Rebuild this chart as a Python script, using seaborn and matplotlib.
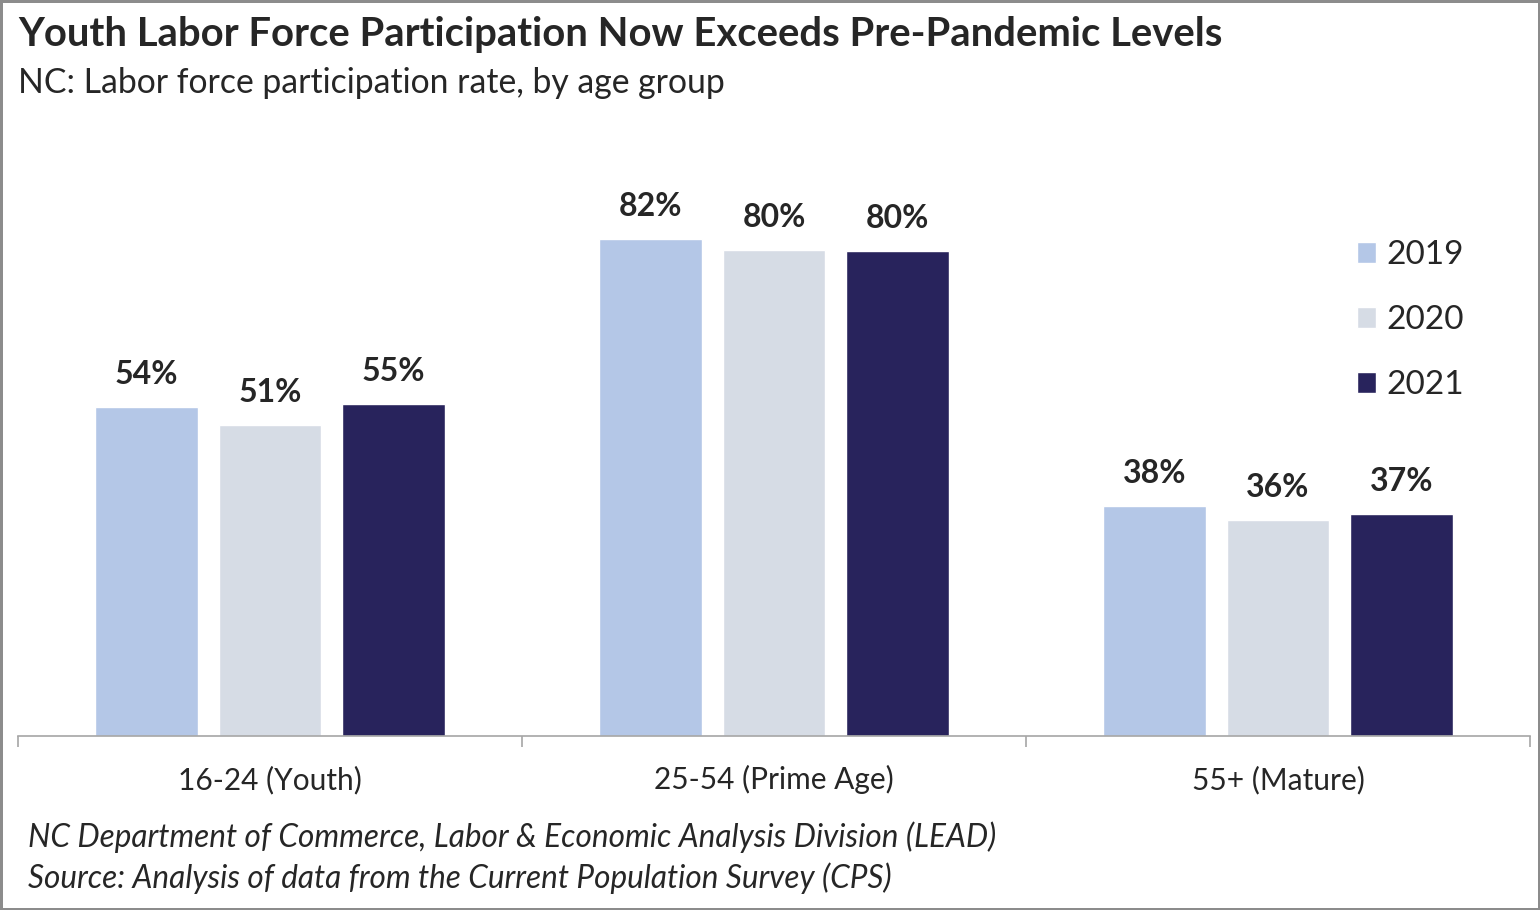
import pandas as pd
import matplotlib.pyplot as plt
import seaborn as sns

# Chart data
age_groups = ['16-24 (Youth)', '25-54 (Prime Age)', '55+ (Mature)']
years = ['2019', '2020', '2021']
rate_2019 = [54.3, 82.0, 38.0]
rate_2020 = [51.3, 80.2, 35.6]
rate_2021 = [54.8, 80.1, 36.6]

title = 'Youth Labor Force Participation Now Exceeds Pre-Pandemic Levels'
subtitle = 'NC: Labor force participation rate, by age group'
foot_1 = 'NC Department of Commerce, Labor & Economic Analysis Division (LEAD)'
foot_2 = 'Source: Analysis of data from the Current Population Survey (CPS)'

# Long table for seaborn
df = pd.DataFrame({
    'Age': age_groups * 3,
    'Year': [y for y in years for _ in age_groups],
    'Rate': rate_2019 + rate_2020 + rate_2021,
})

sns.set_style('white')
plt.rcParams['font.family'] = ['Lato', 'DejaVu Sans']

COLORS = ['#B4C7E7', '#D6DCE5', '#28235C']

fig = plt.figure(figsize=(15.4, 9.1), dpi=100)
fig.patch.set_edgecolor('#8C8C8C')
fig.patch.set_linewidth(2.5)
ax = fig.add_axes([0.0117, 0.191, 0.9818, 0.666])

sns.barplot(data=df, x='Age', y='Rate', hue='Year', palette=COLORS,
            width=0.735, gap=0.167, saturation=1, ax=ax)

for cont in ax.containers:
    ax.bar_label(cont, fmt='%.0f%%', padding=13, fontsize=23, fontweight='bold')

ax.set_ylim(0, 100)
ax.set_xlim(-0.5, 2.5)
ax.set_xlabel('')
ax.set_ylabel('')
ax.set_yticks([])
for side in ['top', 'right', 'left']:
    ax.spines[side].set_visible(False)
ax.spines['bottom'].set_color('#A6A6A6')
ax.spines['bottom'].set_linewidth(1.2)

# category boundary ticks
ax.set_xticks([-0.5, 0.5, 1.5, 2.5], minor=True)
ax.tick_params(axis='x', which='minor', length=8, width=1.2, color='#A6A6A6',
               direction='out', bottom=True)
ax.tick_params(axis='x', which='major', length=0, pad=21, labelsize=21.5)

ax.legend(loc='upper left', bbox_to_anchor=(0.866, 0.868), frameon=False,
          fontsize=24, handlelength=0.57, handleheight=0.57,
          handletextpad=0.3, labelspacing=1.05)

fig.text(0.0117, 0.962, title, fontsize=28.8, fontweight='bold', va='center')
fig.text(0.0117, 0.909, subtitle, fontsize=24.3, va='center')
fig.text(0.018, 1 - 837 / 910, foot_1, fontsize=22.7, style='italic', va='center')
fig.text(0.018, 1 - 878 / 910, foot_2, fontsize=22.7, style='italic', va='center')

plt.savefig('out.png', dpi=100, facecolor='white', edgecolor=fig.get_edgecolor())
